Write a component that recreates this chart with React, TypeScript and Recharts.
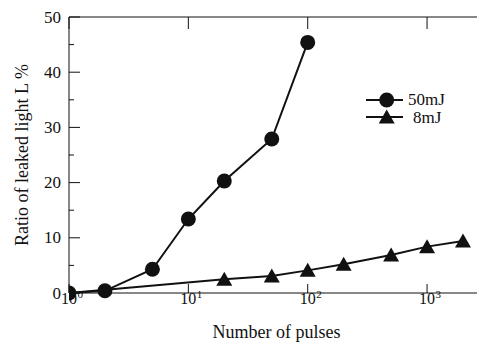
import React from "react"
import { LineChart, Line, XAxis, YAxis, Legend } from "recharts"

// values
const pulses50 = [1, 2, 5, 10, 20, 50, 100]
const ratio50 = [0, 0.4, 4.3, 13.4, 20.3, 27.9, 45.4]
const pulses8 = [1, 20, 50, 100, 200, 500, 1000, 2000]
const ratio8 = [0, 2.5, 3.1, 4.1, 5.2, 6.9, 8.4, 9.4]
const seriesNames = ["50mJ", "8mJ"]
const xTicks = [1, 10, 100, 1000]
const yTicks = [0, 5, 10, 15, 20, 25, 30, 35, 40, 45, 50]
const yTicksRight = [10, 20, 30, 40]

const data50 = pulses50.map((x, i) => ({ x, y: ratio50[i] }))
const data8 = pulses8.map((x, i) => ({ x, y: ratio8[i] }))

const INK = "#111"
const FONT = "'Liberation Serif', 'DejaVu Serif', serif"
const txt = { fontFamily: FONT }

const LeftTick = (props: any) => {
  const { x, y, payload } = props
  const v = payload.value
  const major = v % 10 === 0
  return (
    <g>
      <line x1={x} y1={y} x2={x + (major ? 11 : 5)} y2={y} stroke={INK} strokeWidth={1} />
      {major && (
        <text x={x - 8} y={y} textAnchor="end" dominantBaseline="central" fontSize={17} fill={INK} style={txt}>
          {v}
        </text>
      )}
    </g>
  )
}

const RightTick = (props: any) => {
  const { x, y } = props
  return <line x1={x - 11} y1={y} x2={x} y2={y} stroke={INK} strokeWidth={1} />
}

const TopTick = (props: any) => {
  const { x, y } = props
  return <line x1={x} y1={y} x2={x} y2={y + 12} stroke={INK} strokeWidth={1} />
}

const BottomTick = (props: any) => {
  const { x, y, payload } = props
  const exp = Math.round(Math.log10(payload.value))
  return (
    <g fill={INK}>
      <line x1={x} y1={y} x2={x} y2={y - 9} stroke={INK} strokeWidth={1} />
      <text x={x} y={y + 11} textAnchor="middle" fontSize={16} style={txt}>10</text>
      <text x={x + 8.5} y={y + 5} fontSize={11} style={txt}>{exp}</text>
    </g>
  )
}

const CircleDot = (props: any) => {
  const { cx, cy, index } = props
  return <circle key={"c" + index} cx={cx} cy={cy} r={7.5} fill={INK} />
}

const TriangleDot = (props: any) => {
  const { cx, cy, index } = props
  if (index === 0) return <g key={"t" + index} />
  return <path key={"t" + index} d={`M${cx},${cy - 7.5} L${cx + 8},${cy + 6.5} L${cx - 8},${cy + 6.5} Z`} fill={INK} />
}

const LegendBox = () => (
  <svg width={100} height={40}>
    <line x1={6} y1={12} x2={43} y2={12} stroke={INK} strokeWidth={2} />
    <circle cx={26.7} cy={12} r={7.5} fill={INK} />
    <text x={48} y={17} fontSize={17} fill={INK} style={txt}>{seriesNames[0]}</text>
    <line x1={6} y1={29} x2={43} y2={29} stroke={INK} strokeWidth={2} />
    <path d="M26.7,21.5 L34.7,35.5 L18.7,35.5 Z" fill={INK} />
    <text x={53} y={35} fontSize={17} fill={INK} style={txt}>{seriesNames[1]}</text>
  </svg>
)

export default function App() {
  return (
    <div
      style={{
        position: "absolute",
        left: 0,
        top: 0,
        width: 477,
        height: 347,
        overflow: "hidden",
        background: "#fff",
        fontFamily: FONT,
      }}
    >
      <LineChart width={500} height={347} margin={{ top: 0, right: 0, bottom: 0, left: 0 }}>
        <XAxis
          xAxisId={0}
          dataKey="x"
          type="number"
          scale="log"
          domain={[1, 3000]}
          allowDataOverflow
          ticks={xTicks}
          tick={<BottomTick />}
          tickLine={false}
          tickSize={0}
          tickMargin={0}
          height={54}
          axisLine={{ stroke: INK, strokeWidth: 1 }}
          label={{
            content: (p: any) => {
              const vb = p.viewBox
              return (
                <text x={vb.x + vb.width / 2} y={vb.y + 45} textAnchor="middle" fontSize={18} fill={INK} style={txt}>
                  Number of pulses
                </text>
              )
            },
          }}
        />
        <XAxis
          xAxisId="top"
          orientation="top"
          dataKey="x"
          type="number"
          scale="log"
          domain={[1, 3000]}
          allowDataOverflow
          ticks={xTicks}
          tick={<TopTick />}
          tickLine={false}
          tickSize={0}
          tickMargin={0}
          height={17}
          axisLine={{ stroke: INK, strokeWidth: 1 }}
        />
        <YAxis
          yAxisId={0}
          type="number"
          domain={[0, 50]}
          ticks={yTicks}
          interval={0}
          tick={<LeftTick />}
          tickLine={false}
          tickSize={0}
          tickMargin={0}
          width={69}
          axisLine={{ stroke: INK, strokeWidth: 1 }}
          label={{
            content: (p: any) => {
              const vb = p.viewBox
              const cx = 28
              const cy = vb.y + vb.height / 2
              return (
                <text x={cx} y={cy} transform={`rotate(-90, ${cx}, ${cy})`} textAnchor="middle" fontSize={18} fill={INK} style={txt}>
                  Ratio of leaked light L %
                </text>
              )
            },
          }}
        />
        <YAxis
          yAxisId="r"
          orientation="right"
          type="number"
          domain={[0, 50]}
          ticks={yTicksRight}
          interval={0}
          tick={<RightTick />}
          tickLine={false}
          tickSize={0}
          tickMargin={0}
          width={16}
          axisLine={{ stroke: INK, strokeWidth: 1 }}
        />
        <Legend
          layout="horizontal"
          verticalAlign="middle"
          align="center"
          wrapperStyle={{ position: "absolute", left: 360, top: 88, width: 100, height: 40 }}
          content={() => <LegendBox />}
        />
        <Line
          data={data8}
          dataKey="y"
          name={seriesNames[1]}
          stroke={INK}
          strokeWidth={2}
          dot={<TriangleDot />}
          activeDot={false}
          isAnimationActive={false}
        />
        <Line
          data={data50}
          dataKey="y"
          name={seriesNames[0]}
          stroke={INK}
          strokeWidth={2}
          dot={<CircleDot />}
          activeDot={false}
          isAnimationActive={false}
        />
      </LineChart>
    </div>
  )
}
